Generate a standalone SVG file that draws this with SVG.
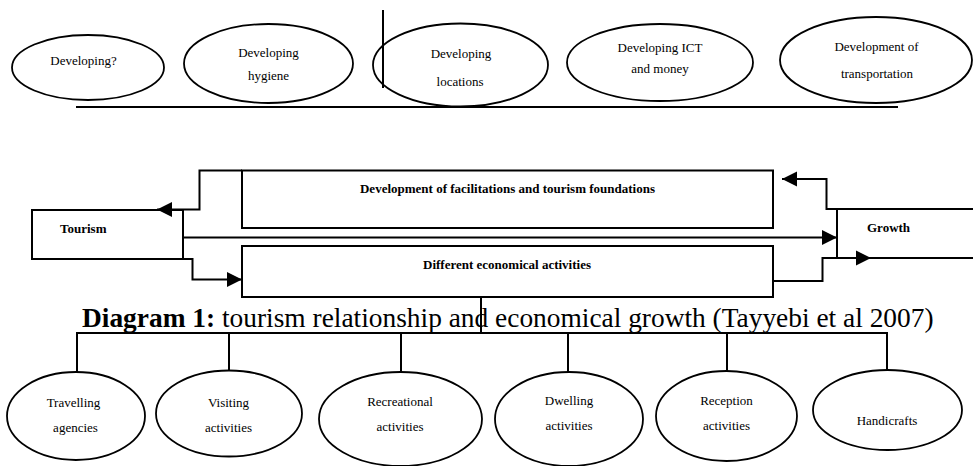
<svg xmlns="http://www.w3.org/2000/svg" width="973" height="466" viewBox="0 0 973 466">
<style>
  .bg{fill:#fff}
  .ell{fill:#fff;stroke:#000;stroke-width:1.8}
  .box{fill:#fff;stroke:#000;stroke-width:2}
  .ln{fill:none;stroke:#000;stroke-width:2}
  .t{font-family:"Liberation Serif","Times New Roman",serif;font-size:13px;fill:#000;text-anchor:middle}
  .b{font-family:"Liberation Serif","Times New Roman",serif;font-size:13px;font-weight:bold;fill:#000}
  .cap{font-family:"Liberation Serif","Times New Roman",serif;font-size:27.4px;fill:#000}
</style>
<defs>
  <marker id="ah" markerUnits="userSpaceOnUse" markerWidth="16" markerHeight="16" viewBox="0 0 16 16" refX="15" refY="8" orient="auto">
    <path d="M0,0.5 L15,8 L0,15.5 Z" fill="#000"/>
  </marker>
</defs>
<rect class="bg" x="0" y="0" width="973" height="466"/>

<g id="n-developing">
  <ellipse class="ell" cx="88" cy="67.5" rx="76" ry="32.5"/>
  <text class="t" x="83.5" y="65">Developing?</text>
</g>
<g id="n-hygiene">
  <ellipse class="ell" cx="268.5" cy="63.5" rx="84.5" ry="39.5"/>
  <text class="t" x="268.5" y="57">Developing</text>
  <text class="t" x="268.5" y="80">hygiene</text>
</g>
<g id="n-locations">
  <ellipse class="ell" cx="460.5" cy="65" rx="87.5" ry="41.5"/>
  <text class="t" x="461" y="58">Developing</text>
  <text class="t" x="460" y="86">locations</text>
</g>
<g id="n-ict">
  <ellipse class="ell" cx="660" cy="62.5" rx="93" ry="38.5"/>
  <text class="t" x="660" y="52">Developing ICT</text>
  <text class="t" x="660" y="73">and money</text>
</g>
<g id="n-transport">
  <ellipse class="ell" cx="876" cy="60" rx="96" ry="43"/>
  <text class="t" x="876.5" y="51">Development of</text>
  <text class="t" x="877" y="78">transportation</text>
</g>

<g id="n-tourism">
  <rect class="box" x="32" y="210" width="151" height="49"/>
  <text class="b" x="60" y="233">Tourism</text>
</g>
<g id="n-facilitations">
  <rect class="box" x="242" y="170.5" width="531" height="57.5"/>
  <text class="b" x="507.5" y="193" text-anchor="middle">Development of facilitations and tourism foundations</text>
</g>
<g id="n-economical">
  <rect class="box" x="242" y="246" width="531" height="51"/>
  <text class="b" x="507" y="269" text-anchor="middle">Different economical activities</text>
</g>
<g id="n-growth">
  <rect class="box" x="837" y="209" width="150" height="49"/>
  <text class="b" x="867" y="232">Growth</text>
</g>

<g id="caption">
  <text class="cap" x="82" y="327"><tspan font-weight="bold">Diagram 1:</tspan> tourism relationship and economical growth (Tayyebi et al 2007)</text>
</g>

<g id="n-travelling">
  <ellipse class="ell" cx="76" cy="416" rx="69" ry="44"/>
  <text class="t" x="73.5" y="407">Travelling</text>
  <text class="t" x="75.5" y="432">agencies</text>
</g>
<g id="n-visiting">
  <ellipse class="ell" cx="229" cy="413.5" rx="73" ry="43"/>
  <text class="t" x="228.5" y="407">Visiting</text>
  <text class="t" x="228.5" y="432">activities</text>
</g>
<g id="n-recreational">
  <ellipse class="ell" cx="400.5" cy="419" rx="81.5" ry="47"/>
  <text class="t" x="400" y="406">Recreational</text>
  <text class="t" x="400" y="431">activities</text>
</g>
<g id="n-dwelling">
  <ellipse class="ell" cx="569" cy="419" rx="74" ry="47"/>
  <text class="t" x="569" y="405">Dwelling</text>
  <text class="t" x="569" y="430">activities</text>
</g>
<g id="n-reception">
  <ellipse class="ell" cx="726.5" cy="416" rx="70.5" ry="45"/>
  <text class="t" x="726.5" y="405">Reception</text>
  <text class="t" x="726.5" y="430">activities</text>
</g>
<g id="n-handicrafts">
  <ellipse class="ell" cx="887.5" cy="410" rx="74.5" ry="40"/>
  <text class="t" x="887" y="425">Handicrafts</text>
</g>

<g id="connectors">
  <line class="ln" x1="383" y1="10" x2="383" y2="88"/>
  <line class="ln" x1="76" y1="107" x2="898" y2="107"/>
  <path class="ln" d="M242,170.5 H199.5 V209.5 H157" marker-end="url(#ah)"/>
  <path class="ln" d="M145,259 H192.5 V279.5 H242" marker-end="url(#ah)"/>
  <path class="ln" d="M183,237.5 H837" marker-end="url(#ah)"/>
  <path class="ln" d="M837,209 H826.5 V179 H782" marker-end="url(#ah)"/>
  <path class="ln" d="M773,281 H822.5 V258 H871" marker-end="url(#ah)"/>
  <line class="ln" x1="481" y1="297" x2="481" y2="333"/>
  <line class="ln" x1="76" y1="333" x2="888" y2="333"/>
  <line class="ln" x1="77" y1="333" x2="77" y2="372"/>
  <line class="ln" x1="229" y1="333" x2="229" y2="370"/>
  <line class="ln" x1="401" y1="333" x2="401" y2="372"/>
  <line class="ln" x1="568" y1="333" x2="568" y2="372"/>
  <line class="ln" x1="727" y1="333" x2="727" y2="371"/>
  <line class="ln" x1="887" y1="333" x2="887" y2="370"/>
</g>
</svg>
